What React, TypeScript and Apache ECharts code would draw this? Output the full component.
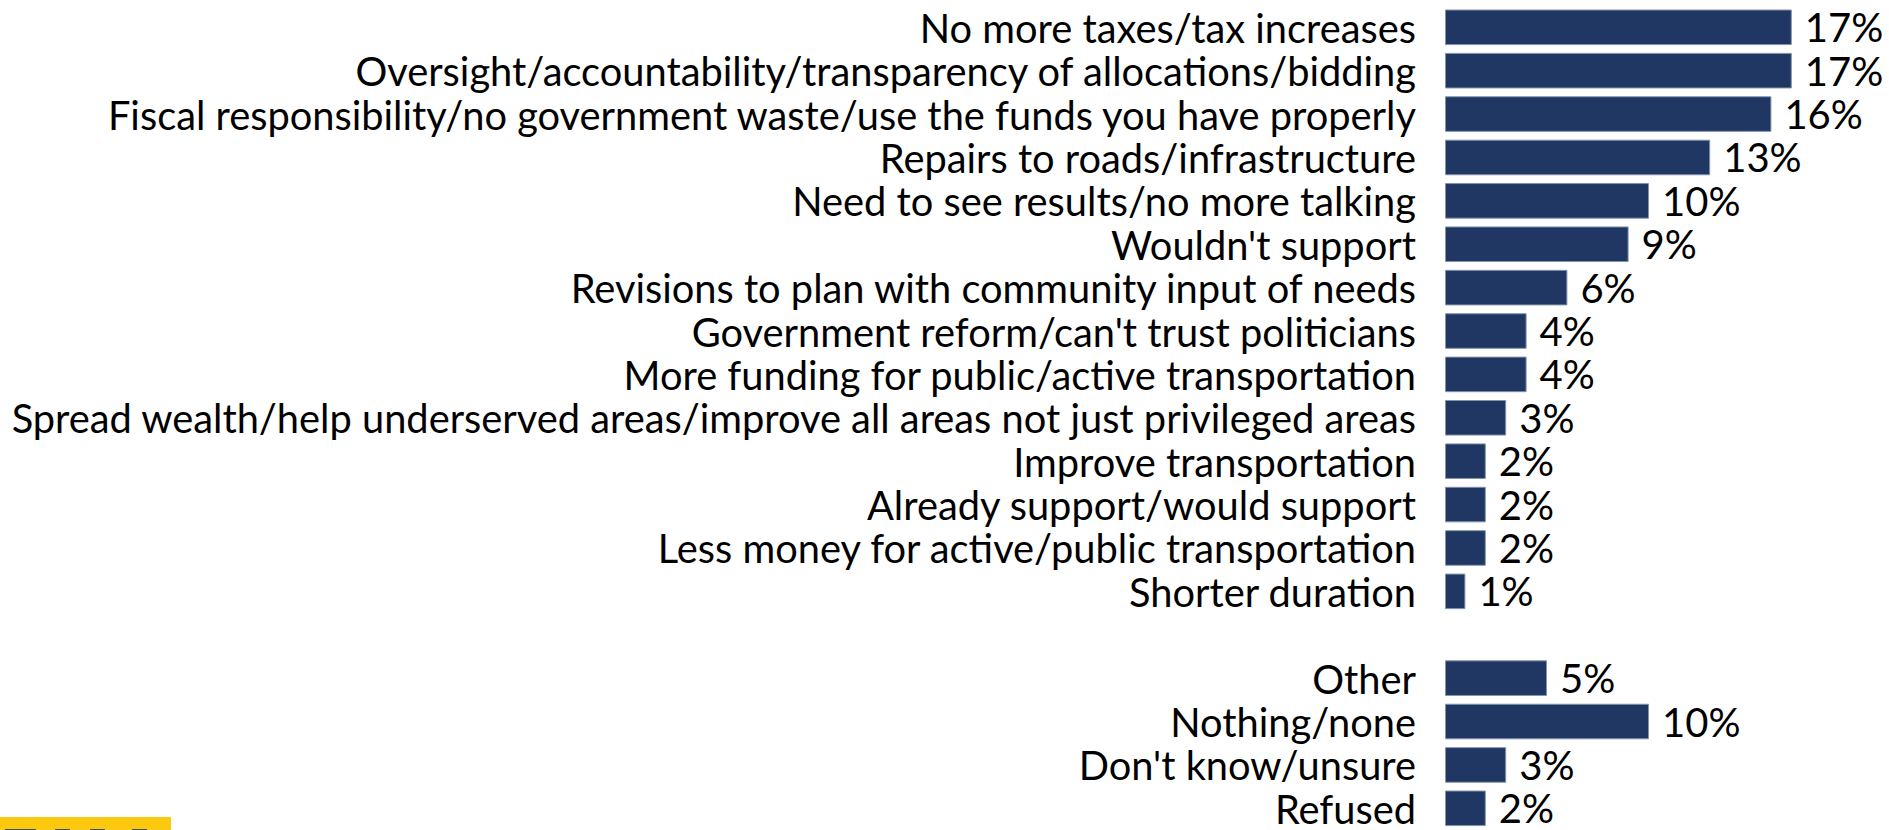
import React, { useEffect, useRef } from "react";
import * as echarts from "echarts";

const categories: string[] = [
  "No more taxes/tax increases",
  "Oversight/accountability/transparency of allocations/bidding",
  "Fiscal responsibility/no government waste/use the funds you have properly",
  "Repairs to roads/infrastructure",
  "Need to see results/no more talking",
  "Wouldn't support",
  "Revisions to plan with community input of needs",
  "Government reform/can't trust politicians",
  "More funding for public/active transportation",
  "Spread wealth/help underserved areas/improve all areas not just privileged areas",
  "Improve transportation",
  "Already support/would support",
  "Less money for active/public transportation",
  "Shorter duration",
  "",
  "Other",
  "Nothing/none",
  "Don't know/unsure",
  "Refused",
];

const values: (number | null)[] = [17, 17, 16, 13, 10, 9, 6, 4, 4, 3, 2, 2, 2, 1, null, 5, 10, 3, 2];

const FONT = "Lato, 'Open Sans', sans-serif";

export default function App() {
  const ref = useRef<HTMLDivElement>(null);
  useEffect(() => {
    document.body.style.margin = "0";
    document.body.style.overflow = "hidden";
    const chart = echarts.init(ref.current!, undefined, { renderer: "svg" });
    chart.setOption({
      animation: false,
      backgroundColor: "#ffffff",
      grid: { left: 1445, top: 5.6, width: 408, height: 829.5, containLabel: false },
      xAxis: {
        type: "value",
        min: 0,
        max: 20,
        show: false,
      },
      yAxis: {
        type: "category",
        data: categories,
        inverse: true,
        axisLine: { show: false },
        axisTick: { show: false },
        axisLabel: {
          interval: 0,
          margin: 29,
          color: "#000000",
          fontFamily: FONT,
          fontSize: 39.8,
          lineHeight: 32,
          padding: [0, 0, 10, 0],
        },
      },
      series: [
        {
          type: "bar",
          data: values,
          barWidth: "82%",
          itemStyle: { color: "#1f3762", borderColor: "#8393ad", borderWidth: 1 },
          label: {
            show: true,
            position: "right",
            distance: 13,
            color: "#000000",
            fontFamily: FONT,
            fontSize: 40,
            lineHeight: 32,
            formatter: (p: any) => (p.value == null ? "" : p.value + "%"),
          },
        },
      ],
      graphic: [
        { type: "rect", shape: { x: 0, y: 817, width: 171, height: 20 }, style: { fill: "#fdc90f" } },
        { type: "rect", shape: { x: 5, y: 829, width: 31, height: 2 }, style: { fill: "#4a4a48" } },
        { type: "rect", shape: { x: 55, y: 829, width: 15, height: 2 }, style: { fill: "#4a4a48" } },
        { type: "rect", shape: { x: 90, y: 829, width: 15, height: 2 }, style: { fill: "#4a4a48" } },
        { type: "rect", shape: { x: 132, y: 829, width: 15, height: 2 }, style: { fill: "#4a4a48" } },
      ],
    });
    return () => chart.dispose();
  }, []);
  return <div ref={ref} style={{ position: "fixed", left: 0, top: 0, width: 1889, height: 830 }} />;
}
